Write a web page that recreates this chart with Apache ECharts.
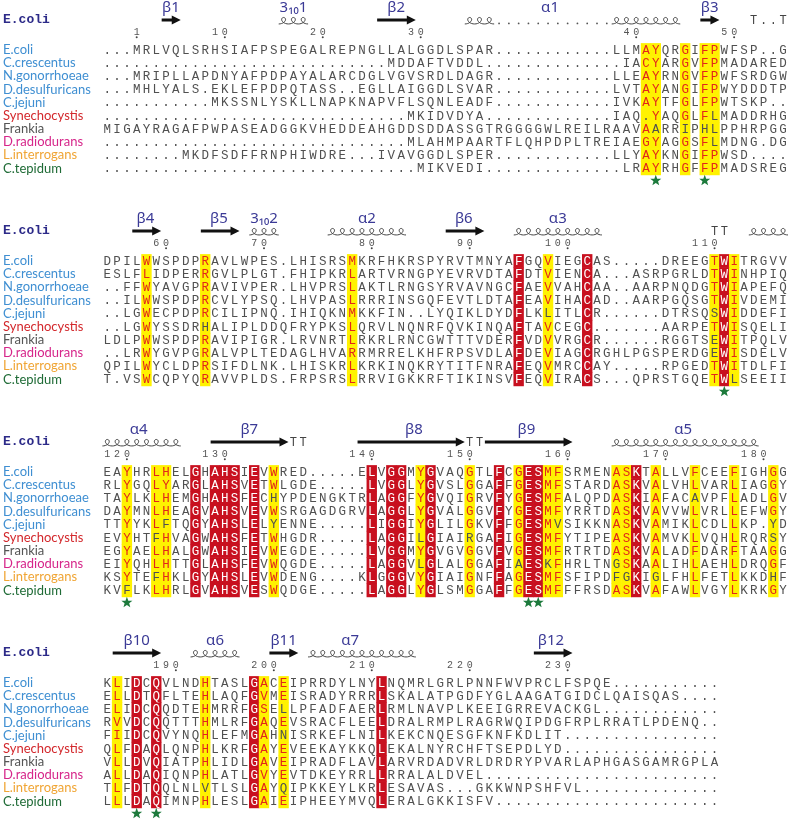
<!DOCTYPE html>
<html><head><meta charset="utf-8">
<script src="https://cdn.jsdelivr.net/npm/echarts@6/dist/echarts.min.js"></script>
<style>html,body{margin:0;padding:0;background:#fff}#c{width:788px;height:819px}</style>
</head><body><div id="c"></div>
<script>
// ---------------- DATA ----------------
const names = ['E.coli','C.crescentus','N.gonorrhoeae','D.desulfuricans','C.jejuni','Synechocystis','Frankia','D.radiodurans','L.interrogans','C.tepidum'];
const nameColors = ['#3f8fd2','#3f8fd2','#3f8fd2','#3f8fd2','#3f8fd2','#d3282c','#555555','#d6268a','#f0a534','#1f6b36'];

const seq1 = [
 '...MRLVQLSRHSIAFPSPEGALREPNGLLALGGDLSPAR............LLMAYQRGIFPWFSP..G',
 '.............................MDDAFTVDDL..............IACYARGVFPMADARED',
 '...MRIPLLAPDNYAFPDPAYALARCDGLVGVSRDLDAGR............LLEAYRNGVFPWFSRDGW',
 '...MHLYALS.EKLEFPDPQTASS..EGLLAIGGDLSVAR............LVTAYANGIFPWYDDDTP',
 '...........MKSSNLYSKLLNAPKNAPVFLSQNLEADF............IVKAYTFGLFPWTSKP..',
 '...............................MKIDVDYA.............IAQ.YAQGLFLMADDRHG',
 'MIGAYRAGAFPWPASEADGGKVHEDDEAHGDDSDDASSGTRGGGGWLREILRAAVAARRIPHLPPHRPGG',
 '...............................MLAHMPAARTFLQHPDPLTREIAEGYAGGSFLMDNG.DG',
 '........MKDFSDFFRNPHIWDRE...IVAVGGDLSPER............LLYAYKNGIFPWSD....',
 '................................MIKVEDI..............LRAYRHGFFPMADSREG'
];
const seq2 = [
 'DPILWWSPDPRAVLWPES.LHISRSMKRFHKRSPYRVTMNYAFGQVIEGCAS.....DREEGTWITRGVV',
 'ESLFLIDPERRGVLPLGT.FHIPKRLARTVRNGPYEVRVDTAFDTVIENCA...ASRPGRLDTWINHPIQ',
 '..FFWYAVGPRAVIVPER.LHVPRSLAKTLRNGSYRVAVNGCFAEVVAHCAA..AARPNQDGTWIAPEFQ',
 '..ILWWSPDPRCVLYPSQ.LHVPASLRRRINSGQFEVTLDTAFEAVIHACAD..AARPGQSGTWIVDEMI',
 '..LGWECPDPRCILIPNQ.IHIQKNMKKFIN..LYQIKLDYDFLKLITLCR......DTRSQSWIDDEFI',
 '..LGWYSSDRHALIPLDDQFRYPKSLQRVLNQNRFQVKINQAFTAVCEGC.......AARPETWISQELI',
 'LDLPWWSPDPRAVIPIGR.LRVNRTLRKRLRNCGWTTTVDERFVDVVRGCR......RGGTSEWITPQLV',
 '..LRWYGVPGRALVPLTEDAGLHVARRMRRELKHFRPSVDLAFDEVIAGCRGHLPGSPERDGEWISDELV',
 'QPILWYCLDPRSIFDLNK.LHISKRLKRKINQKRYTITFNRAFEQVMRCCAY.....RPGEDTWITDLFI',
 'T.VSWCQPYQRAVVPLDS.FRPSRSLRRVIGKKRFTIKINSVFEQVIRACS...QPRSTGQETWLSEEII'
];
const seq3 = [
 'EAYHRLHELGHAHSIEVWRED.....ELVGGMYGVAQGTLFCGESMFSRMENASKTALLVFCEEFIGHGG',
 'RLYGQLYARGLAHSVETWLGDE.....LVGGLYGVSLGGAFFGESMFSTARDASKVALVHLVARLIAGGY',
 'TAYLKLHEMGHAHSFECHYPDENGKTRLAGGFYGVQIGRVFYGESMFALQPDASKIAFACAVPFLADLGV',
 'DAYMNLHEAGVAHSVEVWSRGAGDGRVLAGGLYGVALGGVFYGESMFYRRTDASKVAVVWLVRLLEFWGY',
 'TTYYKLFTQGYAHSLELYENNE.....LIGGIYGLILGKVFFGESMVSIKKNASKVAMIKLCDLLKP.YD',
 'EVYHTFHVAGWAHSFETWHGDR.....LAGGILGIAIRGAFIGESMFYTIPEASKVAMVKLVQHLRQRSY',
 'EGYAELHALGWAHSIEVWEGDE.....LVGGMYGVGVGGVFVGESMFRTRTDASKVALADFDARFTAAGG',
 'EIYQHLHTTGLAHSFEVWQGDE.....LAGGVLGLALGGAFIAESKFHRLTNGSKAALIHLAEHLDRQGF',
 'KSYTEFHKLGYAHSLEVWDENG....KLGGGVYGIAIGNFFAGESMFSFIPDFGKIGLFHLFETLKKDHF',
 'KVFLKLHRLGVAHSVESWQDGE.....LAGGLYGLSMGGAFFGESMFFFRSDASKVAFAWLVGYLKRKGY'
];
const seq4 = [
 'KLIDCQVLNDHTASLGACEIPRRDYLNYLNQMRLGRLPNNFWVPRCLFSPQE...........',
 'ELLDTQFLTEHLAQFGVMEISRADYRRRLSKALATPGDFYGLAAGATGIDCLQAISQAS....',
 'ELIDCQQDTEHMRRFGSELLPFADFAERLRMLNAVPLKEEIGRREVACKGL............',
 'RVVDCQQTTTHMLRFGAQEVSRACFLEELDRALRMPLRAGRWQIPDGFRPLRRATLPDENQ..',
 'FIIDCQVYNQHLEFMGAHNISRKEFLNILKEKCNQESGFKNFKDLIT................',
 'QLFDAQLQNPHLKRFGAYEVEEKAYKKQLEKALNYRCHFTSEPDLYD................',
 'VLLDVQIATPHLIDLGAVEIPRADFLAVLARVRDADVRLDRDRYPVARLAPHGASGAMRGPLA',
 'ALLDAQIQNPHLATLGVYEVTDKEYRRLLRRALALDVEL........................',
 'TLFDTQQLNLVTLSLGAYQIPKKEYLKRLESAVAS...GKKWNPSHFVL..............',
 'LLLDAQIMNPHLESLGAIEIPHEEYMVQLERALGKKISFV.......................'
];

// conserved columns: [column, 'r' = identical (red box) | 'y' = similar (yellow box), residues drawn in red]
const cons1 = [[56,'y','ACG'],[57,'y','Y'],[60,'y','G'],[62,'y','F'],[63,'y','P']];
const cons2 = [[5,'y','WL'],[11,'y','R'],[26,'y','LMR'],[43,'r'],[46,'y','V'],[50,'r'],[63,'y','T'],[64,'r'],[65,'y','I']];
const cons3 = [[3,'y','Y'],[6,'y','L'],[7,'y','HY'],[10,'r'],[12,'r'],[13,'r'],[14,'r'],[16,'r'],[18,'y','W'],
 [28,'r'],[30,'r'],[31,'r'],[33,'y','Y'],[34,'r'],[38,'y','G'],[41,'r'],[43,'y','G'],[44,'r'],[45,'r'],
 [46,'y','M'],[47,'y','F'],[53,'y','A'],[54,'y','S'],[55,'r'],[57,'y','A'],[61,'y','FL'],[65,'y','FL'],[69,'y','G']];
const cons4 = [[2,'y','LVI'],[4,'r'],[6,'r'],[11,'y','H'],[16,'r'],[17,'y','AVS'],[19,'y','E'],[29,'r']];

// E.coli numbering tick labels
const ticks1 = [1,10,20,30,40,50];
const ticks2 = [60,70,80,90,100,110];
const ticks3 = [120,130,140,150,160,170,180];
const ticks4 = [190,200,210,220,230];

// green stars (columns)
const stars1 = [57,62];
const stars2 = [64];
const stars3 = [3,44,45];
const stars4 = [4,6];

// E.coli secondary structure: E strand, H helix, D gap dots, X turn text
const struct1 = [['E',7,8],['H',19,21],['E',29,32],['H',38,40],['D',41,52],['H',53,59],['E',62,63],['X',67,70,'T..T']];
const struct2 = [['E',4,6],['E',11,14],['H',16,18],['H',24,31],['E',36,39],['H',43,51],['X',63,64,'TT'],['H',67,70]];
const struct3 = [['H',1,8],['E',12,19],['X',20,21,'TT'],['E',27,37],['X',38,39,'TT'],['E',40,48],['H',53,67]];
const struct4 = [['E',2,6],['H',10,14],['E',18,20],['H',22,32],['E',45,48]];
const labels1 = [['β1',7.5],['3₁₀1',20],['β2',30.5],['α1',46.2],['β3',62.5]];
const labels2 = [['β4',4.9],['β5',12.4],['3₁₀2',17],['α2',27.5],['β6',37.4],['α3',47]];
const labels3 = [['α4',4.2],['β7',15.5],['β8',32.3],['β9',43.8],['α5',59.8]];
const labels4 = [['β10',4],['α6',12],['β11',19],['α7',25.8],['β12',46.3]];

// ---------------- LAYOUT / STYLE ----------------
const LEFT = 101.4, WIDTH = 686.6, ROWH = 13.15;
const firstRowY = [50, 261, 472, 683];
const NAME_MARGIN = 99.4;
const RED = '#c8101f', YEL = '#fff200', RED_TXT = '#e2261b', TXT = '#505050';
const SEQ_FONT = '12.5px "Liberation Mono"';
const LABEL_Y = -3.24, ARROW_Y = -2.28, COIL_Y = -1.98, T_Y = -2.2, HDR_Y = -2.28, NUM_Y = -1.36, NDOT_Y = -0.97, STAR_DY = 0.93;

const blocks = [
 {seqs: seq1, cons: cons1, ticks: ticks1, stars: stars1, struct: struct1, labels: labels1},
 {seqs: seq2, cons: cons2, ticks: ticks2, stars: stars2, struct: struct2, labels: labels2},
 {seqs: seq3, cons: cons3, ticks: ticks3, stars: stars3, struct: struct3, labels: labels3},
 {seqs: seq4, cons: cons4, ticks: ticks4, stars: stars4, struct: struct4, labels: labels4}
];
let resCount = 0;
blocks.forEach(b => { b.start = resCount + 1; resCount += b.seqs[0].replace(/\./g, '').length; });

function buildCells(b) {
  const cm = {};
  b.cons.forEach(c => { cm[c[0]] = {kind: c[1], set: c[2] || ''}; });
  const data = [], info = [];
  b.seqs.forEach((s, r) => {
    for (let i = 0; i < s.length; i++) {
      const col = i + 1, ch = s[i], c = cm[col];
      let bg = null, fg = TXT;
      if (c) {
        if (c.kind === 'r') { bg = RED; fg = '#ffffff'; }
        else { bg = YEL; fg = c.set.indexOf(ch) >= 0 ? RED_TXT : TXT; }
      }
      data.push([col, r]);
      info.push({ch, bg, fg});
    }
  });
  return {data, info};
}

function buildItems(b) {
  const items = [];
  b.struct.forEach(s => items.push({t: s[0], a: s[1], b: s[2], txt: s[3]}));
  b.labels.forEach(l => items.push({t: 'L', txt: l[0], a: l[1]}));
  items.push({t: 'N'});
  const e = b.seqs[0];
  let n = b.start - 1;
  const colOf = {};
  for (let i = 0; i < e.length; i++) { if (e[i] !== '.') { n++; colOf[n] = i + 1; } }
  b.ticks.forEach(t => items.push({t: 'num', n: t, a: colOf[t]}));
  b.stars.forEach(c => items.push({t: 'S', a: c}));
  return items;
}

function cellRender(info) {
  return function (params, api) {
    const cell = info[params.dataIndex];
    const p = api.coord([api.value(0), api.value(1)]);
    const s = api.size([1, 1]);
    const ch = [];
    if (cell.bg) ch.push({type: 'rect', shape: {x: p[0] - s[0] / 2 - 0.3, y: p[1] - s[1] / 2 - 0.3, width: s[0] + 0.6, height: s[1] + 0.6}, style: {fill: cell.bg}});
    ch.push({type: 'text', x: p[0], y: p[1] + 0.5, style: {text: cell.ch, fill: cell.fg, font: SEQ_FONT, align: 'center', verticalAlign: 'middle'}});
    return {type: 'group', children: ch};
  };
}

function structRender(items) {
  return function (params, api) {
    const it = items[params.dataIndex];
    const sz = api.size([1, 1]);
    const cw = sz[0], rh = sz[1];
    const y0 = api.coord([1, 0])[1];
    const X = c => api.coord([c, 0])[0];
    const out = [];
    if (it.t === 'E') {
      const x0 = X(it.a - 0.5) + 0.5, xt = X(it.b + 0.5), y = y0 + ARROW_Y * rh, hl = 9, hw = 4.6, sw = 1.6;
      out.push({type: 'polygon', shape: {points: [[x0, y - sw], [xt - hl, y - sw], [xt - hl, y - hw], [xt, y], [xt - hl, y + hw], [xt - hl, y + sw], [x0, y + sw]]}, style: {fill: '#111'}});
    } else if (it.t === 'H') {
      const yb = y0 + COIL_Y * rh, H = 6.5, A = 0.42 * cw;
      const pts = [];
      for (let c = it.a; c <= it.b; c++) {
        const xs = X(c - 0.5);
        for (let k = 0; k <= 24; k++) {
          const t = k / 24 * 2 * Math.PI;
          pts.push([xs + cw * t / (2 * Math.PI) + A * Math.sin(t), yb - H * (1 - Math.cos(t)) / 2]);
        }
      }
      out.push({type: 'polyline', shape: {points: pts}, style: {stroke: '#444', lineWidth: 1, fill: null}});
    } else if (it.t === 'D') {
      const yb = y0 + COIL_Y * rh;
      for (let c = it.a; c <= it.b; c++) out.push({type: 'circle', shape: {cx: X(c), cy: yb - 0.5, r: 0.9}, style: {fill: '#555'}});
    } else if (it.t === 'X') {
      for (let c = it.a; c <= it.b; c++) out.push({type: 'text', x: X(c), y: y0 + T_Y * rh, style: {text: it.txt[c - it.a], font: '12px "Liberation Mono"', fill: '#444', align: 'center', verticalAlign: 'middle'}});
    } else if (it.t === 'L') {
      out.push({type: 'text', x: X(it.a), y: y0 + LABEL_Y * rh, style: {text: it.txt, font: '15px "Noto Sans"', fill: '#3b3a96', align: 'center', verticalAlign: 'middle'}});
    } else if (it.t === 'N') {
      out.push({type: 'text', x: X(0.5) - NAME_MARGIN, y: y0 + HDR_Y * rh, style: {text: 'E.coli', font: 'bold 13px "Liberation Mono"', fill: '#2c2a88', align: 'left', verticalAlign: 'middle'}});
    } else if (it.t === 'num') {
      const d = String(it.n);
      for (let k = 0; k < d.length; k++) {
        out.push({type: 'text', x: X(it.a - (d.length - 1 - k)), y: y0 + NUM_Y * rh, style: {text: d[k], font: '10px "Liberation Mono"', fill: '#555', align: 'center', verticalAlign: 'middle'}});
      }
      out.push({type: 'circle', shape: {cx: X(it.a), cy: y0 + NDOT_Y * rh, r: 1}, style: {fill: '#444'}});
    } else if (it.t === 'S') {
      const cx = X(it.a), cy = api.coord([it.a, 9])[1] + STAR_DY * rh;
      const pts = [];
      for (let k = 0; k < 10; k++) {
        const r = k % 2 === 0 ? 5.8 : 2.4, ang = -Math.PI / 2 + k * Math.PI / 5;
        pts.push([cx + r * Math.cos(ang), cy + r * Math.sin(ang)]);
      }
      out.push({type: 'polygon', shape: {points: pts}, style: {fill: '#1d7a3c'}});
    }
    return {type: 'group', children: out};
  };
}

const grids = [], xAxes = [], yAxes = [], series = [];
blocks.forEach((b, i) => {
  grids.push({left: LEFT, width: WIDTH, top: firstRowY[i] - ROWH / 2, height: ROWH * 10});
  xAxes.push({type: 'value', gridIndex: i, min: 0.5, max: 70.5, show: false});
  yAxes.push({type: 'category', gridIndex: i, data: names, inverse: true,
    axisLine: {show: false}, axisTick: {show: false}, splitLine: {show: false},
    axisLabel: {show: true, interval: 0, align: 'left', margin: NAME_MARGIN, fontFamily: 'Lato', fontSize: 13,
      color: v => nameColors[names.indexOf(v)]}});
  const cells = buildCells(b);
  series.push({type: 'custom', coordinateSystem: 'cartesian2d', xAxisIndex: i, yAxisIndex: i, clip: false,
    data: cells.data, encode: {x: 0, y: 1}, renderItem: cellRender(cells.info), silent: true});
  const items = buildItems(b);
  series.push({type: 'custom', coordinateSystem: 'cartesian2d', xAxisIndex: i, yAxisIndex: i, clip: false,
    data: items.map(it => [it.a || 1, 0]), encode: {x: 0, y: 1}, renderItem: structRender(items), silent: true, z: 3});
});

const chart = echarts.init(document.getElementById('c'));
chart.setOption({
  animation: false,
  backgroundColor: '#ffffff',
  grid: grids, xAxis: xAxes, yAxis: yAxes, series: series
});
</script>
</body></html>
